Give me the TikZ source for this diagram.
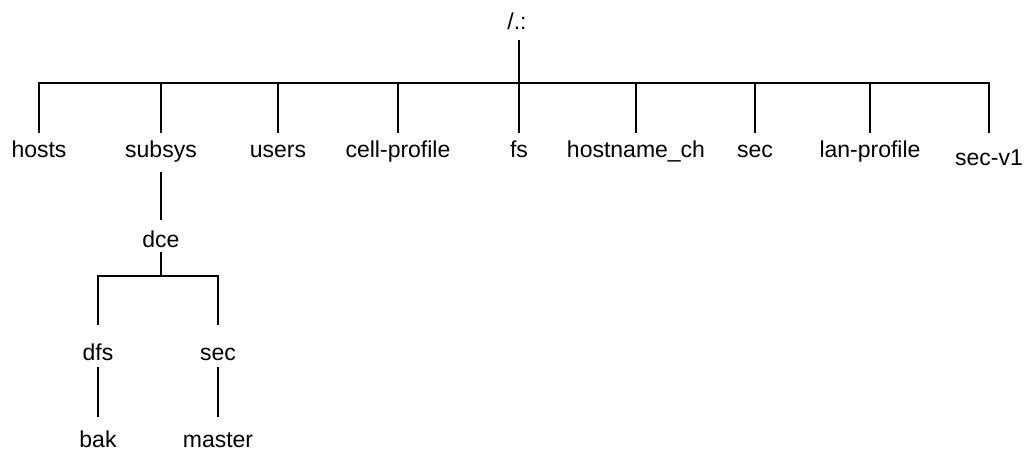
\documentclass[tikz,border=0pt]{standalone}
\usepackage{fontspec}
\setmainfont{Liberation Sans}
\begin{document}
\begin{tikzpicture}[x=1pt,y=-1pt,
  lbl/.style={anchor=base,inner sep=0pt,font=\fontsize{23}{26}\selectfont},
  conn/.style={line width=2pt,black}]
\useasboundingbox (0,0) rectangle (1033,451);
% labels
\node[lbl] (root) at (517,29) {/.:};
\node[lbl] (hosts) at (39,157) {hosts};
\node[lbl] (subsys) at (161,157) {subsys};
\node[lbl] (users) at (278,157) {users};
\node[lbl] (cellprofile) at (398,157) {cell-profile};
\node[lbl] (fs) at (519,157) {fs};
\node[lbl] (hostnamech) at (636,157) {hostname\_ch};
\node[lbl] (sec) at (755,157) {sec};
\node[lbl] (lanprofile) at (870,157) {lan-profile};
\node[lbl] (secv1) at (989,165) {sec-v1};
\node[lbl] (dce) at (161,247) {dce};
\node[lbl] (dfs) at (98,360) {dfs};
\node[lbl] (dsec) at (218,360) {sec};
\node[lbl] (bak) at (98,447.5) {bak};
\node[lbl] (master) at (218,447.5) {master};
% level coordinates
\coordinate (rtop) at (519,40);
\coordinate (rb) at (519,83);
\coordinate (ctop) at (0,133);
\coordinate (sbot) at (0,172);
\coordinate (stop) at (0,220);
\coordinate (dbot) at (0,252);
\coordinate (db) at (0,276);
\coordinate (gtop) at (0,325);
\coordinate (gbot) at (0,367);
\coordinate (btop) at (0,417);
% root
\draw[conn] (rtop) -- (rb);
\draw[conn] (hosts.north |- ctop) -- (hosts.north |- rb) -- (secv1.north |- rb) -- (secv1.north |- ctop);
\foreach \c in {subsys,users,cellprofile,fs,hostnamech,sec,lanprofile}
  \draw[conn] (\c.north |- rb) -- (\c.north |- ctop);
% subtree
\draw[conn] (subsys.south |- sbot) -- (dce.north |- stop);
\draw[conn] (dce.south |- dbot) -- (dce.south |- db);
\draw[conn] (dfs.north |- gtop) -- (dfs.north |- db) -- (dsec.north |- db) -- (dsec.north |- gtop);
\draw[conn] (dfs.south |- gbot) -- (bak.north |- btop);
\draw[conn] (dsec.south |- gbot) -- (master.north |- btop);
\end{tikzpicture}
\end{document}
